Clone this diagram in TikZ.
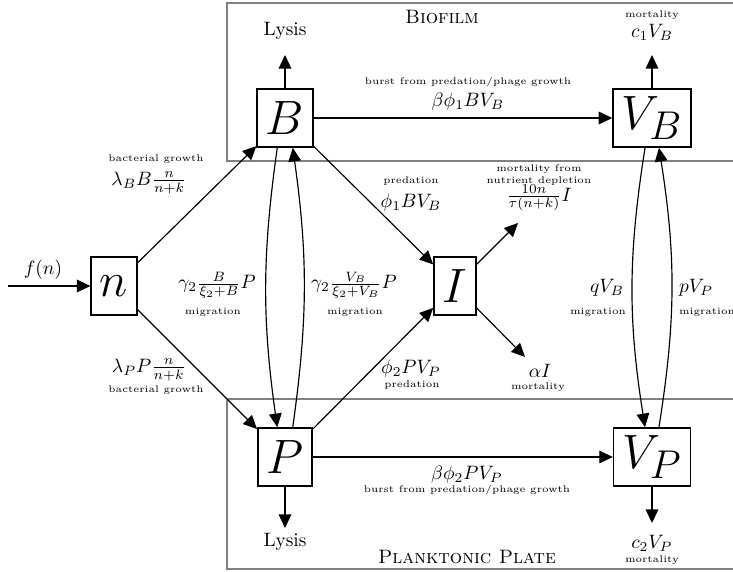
\documentclass[tikz,border=0pt]{standalone}
\usepackage{amsmath,amssymb}
\usepackage{tikz}
\usetikzlibrary{positioning,arrows.meta}
\tikzset{
  caja/.style={rectangle, draw, thick, font=\Huge, inner xsep=4.5pt, inner ysep=0pt,
    minimum height=30pt},
  flecha/.style={-{Triangle[length=7pt,width=6.5pt]}, semithick},
  etq/.style={font=\tiny, inner sep=1pt},
  zona/.style={draw=gray, semithick},
}
\begin{document}
\begin{tikzpicture}[x=0.516pt, y=-0.516pt]
  \useasboundingbox (0,0) rectangle (733,571);
  % compartimentos
  \draw[zona] (227,3) rectangle (760,161);
  \draw[zona] (227,399) rectangle (760,569);
  \node (biofilm) at (442,17) {\textsc{Biofilm}};
  \node (plate) at (467,557) {\textsc{Planktonic Plate}};

  % poblaciones
  \node[caja] (n) at (114,286) {$n$};
  \node[caja] (B) at (285,118) {$B$};
  \node[caja] (VB) at (652,118) {$V_B$};
  \node[caja] (I) at (455,286) {$I$};
  \node[caja] (P) at (285,457) {$P$};
  \node[caja] (VP) at (652,457) {$V_P$};

  % extremos libres
  \coordinate (fin) at (8,286);
  \coordinate (lisB) at (285,55);
  \coordinate (mortB) at (652,55);
  \coordinate (lisP) at (285,528);
  \coordinate (mortP) at (652,523);
  \coordinate (iup) at (518,223);
  \coordinate (idown) at (525,357);

  % flujos
  \draw[flecha] (fin) -- (n);
  \draw[flecha] (n) -- (B); \draw[flecha] (n) -- (P);
  \draw[flecha] (B) -- (VB); \draw[flecha] (P) -- (VP);
  \draw[flecha] (B) -- (I); \draw[flecha] (P) -- (I);
  \draw[flecha] (I) -- (iup); \draw[flecha] (I) -- (idown);
  \draw[flecha] (B) -- (lisB); \draw[flecha] (VB) -- (mortB);
  \draw[flecha] (P) -- (lisP); \draw[flecha] (VP) -- (mortP);
  \draw[flecha] ([xshift=-4pt]B.south) to[bend right=8] ([xshift=-4pt]P.north);
  \draw[flecha] ([xshift=4pt]P.north) to[bend right=8] ([xshift=4pt]B.south);
  \draw[flecha] ([xshift=-3.6pt]VB.south) to[bend right=9] ([xshift=-3.6pt]VP.north);
  \draw[flecha] ([xshift=3.6pt]VP.north) to[bend right=9] ([xshift=3.6pt]VB.south);

  % etiquetas
  \node (fn) at (43,270) {$f(n)$};
  \node[etq] (crecB) at (156,159) {bacterial growth};
  \node (tasaB) at (149,183) {$\lambda_B B\frac{n}{n+k}$};
  \node (tasaP) at (149,370) {$\lambda_P P\frac{n}{n+k}$};
  \node[etq] (crecP) at (156,390) {bacterial growth};
  \node (migBP) at (217,285) {$\gamma_2\frac{B}{\xi_2+B}P$};
  \node[etq] (migBPt) at (213,312) {migration};
  \node (migPB) at (354,285) {$\gamma_2\frac{V_B}{\xi_2+V_B}P$};
  \node[etq] (migPBt) at (355,312) {migration};
  \node[etq] (predB) at (411,181) {predation};
  \node (tasaBI) at (411,203) {$\phi_1 BV_B$};
  \node (tasaPI) at (411,369) {$\phi_2 PV_P$};
  \node[etq] (predP) at (412,385) {predation};
  \node[etq, align=center] (depl) at (539,175) {mortality from\\nutrient depletion};
  \node (tasadepl) at (539,198) {$\frac{10n}{\tau(n+k)}I$};
  \node (alfa) at (540,371) {$\alpha I$};
  \node[etq] (mortI) at (538,387) {mortality};
  \node (qVB) at (607,288) {$qV_B$};
  \node[etq] (migV1) at (598,312) {migration};
  \node (pVP) at (696,288) {$pV_P$};
  \node[etq] (migV2) at (707,312) {migration};
  \node (lysB) at (285,31) {Lysis};
  \node[etq] (mortVB) at (652,15) {mortality};
  \node (c1) at (652,32) {$c_1V_B$};
  \node[etq] (burstB) at (468,82) {burst from predation/phage growth};
  \node (betaB) at (468,102) {$\beta\phi_1BV_B$};
  \node (betaP) at (467,475) {$\beta\phi_2PV_P$};
  \node[etq] (burstP) at (467,490) {burst from predation/phage growth};
  \node (lysP) at (285,542) {Lysis};
  \node (c2) at (652,543) {$c_2V_P$};
  \node[etq] (mortVP) at (652,560) {mortality};
\end{tikzpicture}
\end{document}
